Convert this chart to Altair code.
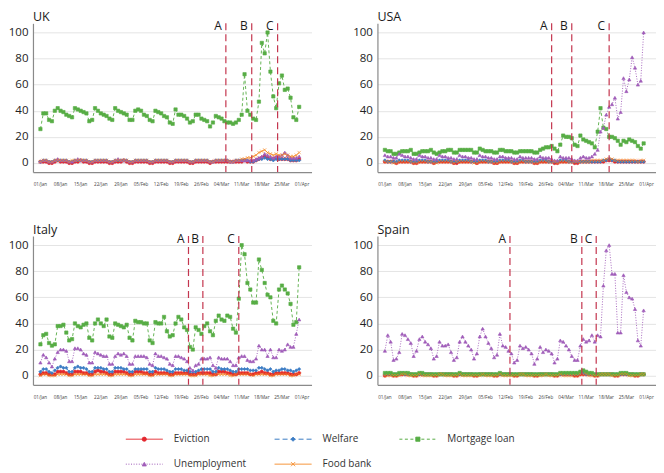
import json
import pandas as pd
import altair as alt

# ---------------- categories / styles ----------------
SERIES = ["Eviction", "Welfare", "Mortgage loan", "Unemployment", "Food bank"]
COLORS = ["#e3262d", "#3b7cc4", "#57ad45", "#a05cb9", "#f5861f"]
DASHES = [[1, 0], [5, 3], [3, 2.5], [1, 1.6], [1, 0]]
SHAPES = ["circle", "diamond", "square", "triangle-up", "M-1,-1L1,1M-1,1L1,-1"]
COUNTRIES = ["UK", "USA", "Italy", "Spain"]
TICK_LABELS = ["01/Jan", "08/Jan", "15/Jan", "22/Jan", "29/Jan", "05/Feb", "12/Feb",
               "19/Feb", "26/Feb", "04/Mar", "11/Mar", "18/Mar", "25/Mar", "01/Apr"]
EVENT_LABELS = ["A", "B", "C"]

# ---------------- daily values, 01/Jan .. 31/Mar ----------------
uk_eviction = [1, 1, 1, 0, 0,
               1, 2, 1, 1, 1, 0, 0,
               1, 1, 2, 1, 1, 0, 0,
               1, 1, 1, 1, 1, 0, 0,
               1, 1, 1, 2, 1, 0, 0,
               1, 1, 1, 1, 1, 0, 0,
               1, 1, 1, 1, 1, 0, 0,
               1, 1, 1, 1, 1, 0, 0,
               1, 1, 1, 1, 1, 0, 1,
               1, 1, 1, 1, 1, 1, 1,
               1, 1, 1, 2, 1, 1, 1,
               2, 3, 4, 5, 4, 3, 3,
               4, 3, 3, 3, 3, 2, 2,
               2, 3]
uk_welfare = [1, 2, 2, 1, 1,
              2, 2, 2, 2, 2, 1, 1,
              2, 2, 2, 2, 2, 1, 1,
              2, 2, 2, 2, 2, 1, 1,
              2, 2, 2, 2, 2, 1, 1,
              2, 2, 2, 2, 2, 1, 1,
              2, 2, 2, 2, 2, 1, 1,
              2, 2, 2, 2, 2, 1, 1,
              2, 2, 2, 2, 2, 1, 1,
              2, 2, 2, 2, 2, 1, 1,
              2, 2, 2, 2, 2, 1, 1,
              2, 3, 3, 4, 3, 3, 2,
              3, 3, 3, 3, 3, 2, 2,
              2, 2]
uk_mortgage = [26, 38, 38, 33, 32,
               40, 42, 40, 39, 37, 36, 35,
               42, 41, 40, 39, 38, 32, 33,
               42, 40, 38, 37, 36, 34, 33,
               42, 40, 39, 38, 37, 33, 33,
               40, 41, 40, 37, 36, 33, 32,
               40, 39, 38, 36, 35, 31, 30,
               41, 37, 37, 36, 34, 31, 32,
               37, 37, 34, 33, 32, 28, 31,
               36, 35, 34, 32, 31, 31, 30,
               31, 33, 37, 68, 40, 37, 34,
               33, 47, 92, 84, 100, 70, 51,
               42, 61, 67, 56, 57, 50, 35,
               33, 43]
uk_unemployment = [1, 2, 2, 1, 1,
                   2, 3, 2, 2, 2, 1, 1,
                   2, 3, 2, 2, 2, 1, 1,
                   2, 2, 2, 2, 2, 1, 1,
                   2, 3, 2, 2, 2, 1, 1,
                   2, 2, 2, 2, 2, 1, 1,
                   2, 2, 2, 2, 2, 1, 1,
                   2, 2, 2, 2, 2, 1, 1,
                   2, 2, 2, 2, 2, 1, 1,
                   2, 2, 2, 2, 2, 1, 1,
                   2, 2, 2, 2, 2, 2, 2,
                   3, 4, 5, 7, 6, 5, 4,
                   5, 5, 6, 8, 6, 4, 4,
                   4, 5]
uk_foodbank = [1, 2, 2, 1, 1,
               2, 2, 2, 2, 2, 1, 2,
               2, 2, 2, 2, 2, 1, 1,
               2, 2, 2, 2, 2, 1, 1,
               2, 2, 2, 2, 2, 1, 1,
               2, 2, 2, 2, 2, 1, 1,
               2, 2, 2, 2, 2, 1, 1,
               2, 2, 2, 2, 2, 1, 1,
               2, 2, 2, 2, 2, 1, 1,
               2, 2, 2, 2, 2, 1, 1,
               2, 2, 3, 3, 4, 4, 5,
               6, 8, 9, 10, 8, 7, 6,
               7, 6, 6, 7, 6, 5, 5,
               6, 8]

usa_eviction = [1, 1, 1, 1, 0,
                1, 1, 1, 1, 1, 0, 0,
                1, 1, 1, 1, 1, 0, 1,
                1, 1, 1, 1, 1, 0, 0,
                1, 1, 1, 1, 1, 1, 0,
                1, 1, 1, 1, 1, 0, 0,
                1, 1, 1, 1, 1, 0, 0,
                1, 1, 1, 1, 1, 0, 0,
                1, 1, 1, 1, 1, 0, 0,
                1, 1, 1, 1, 1, 0, 0,
                1, 1, 1, 1, 1, 1, 1,
                1, 1, 2, 2, 2, 1, 1,
                1, 1, 1, 1, 1, 1, 1,
                1, 1]
usa_welfare = [2, 1, 1, 1, 1,
               2, 2, 2, 2, 1, 1, 1,
               2, 2, 2, 1, 1, 1, 1,
               2, 2, 2, 2, 1, 1, 1,
               2, 2, 2, 2, 1, 1, 1,
               2, 2, 2, 1, 1, 1, 1,
               2, 2, 2, 2, 1, 1, 1,
               2, 2, 1, 1, 1, 1, 1,
               2, 2, 2, 1, 1, 1, 1,
               2, 2, 2, 1, 1, 1, 1,
               1, 1, 1, 1, 1, 1, 1,
               1, 2, 2, 3, 2, 2, 1,
               1, 1, 1, 1, 1, 1, 1,
               1, 1]
usa_mortgage = [10, 9, 9, 7, 7,
                8, 9, 9, 9, 10, 7, 7,
                8, 9, 9, 9, 10, 8, 7,
                8, 9, 9, 10, 10, 8, 8,
                10, 10, 10, 10, 10, 8, 8,
                11, 10, 9, 9, 9, 8, 8,
                10, 10, 9, 9, 9, 8, 8,
                9, 9, 9, 9, 9, 8, 8,
                10, 11, 12, 12, 13, 11, 9,
                14, 21, 20, 20, 19, 14, 13,
                21, 18, 17, 16, 15, 12, 24,
                42, 27, 26, 20, 20, 19, 17,
                14, 17, 16, 18, 17, 16, 13,
                11, 15]
usa_unemployment = [6, 5, 5, 4, 4,
                    7, 6, 5, 5, 4, 3, 3,
                    6, 5, 5, 4, 4, 3, 3,
                    6, 5, 5, 4, 4, 3, 3,
                    6, 5, 5, 4, 4, 3, 3,
                    6, 5, 5, 4, 4, 3, 3,
                    5, 5, 4, 4, 4, 3, 3,
                    5, 4, 4, 4, 4, 3, 3,
                    5, 4, 4, 4, 3, 2, 2,
                    5, 4, 4, 4, 3, 2, 2,
                    4, 5, 4, 4, 5, 7, 10,
                    24, 27, 37, 43, 45, 50, 34,
                    39, 65, 55, 64, 81, 73, 60,
                    63, 100]
usa_foodbank = [1, 1, 1, 0, 0,
                1, 1, 1, 1, 1, 0, 0,
                1, 1, 1, 1, 1, 0, 0,
                1, 1, 1, 1, 1, 0, 1,
                1, 1, 1, 1, 1, 0, 0,
                1, 1, 1, 1, 1, 0, 0,
                1, 1, 1, 1, 1, 0, 0,
                1, 1, 1, 1, 1, 0, 0,
                1, 1, 1, 1, 1, 1, 0,
                1, 1, 1, 1, 1, 1, 1,
                1, 1, 1, 1, 2, 2, 2,
                2, 2, 3, 3, 3, 2, 2,
                2, 2, 2, 2, 2, 2, 1,
                2, 2]

italy_eviction = [1, 2, 2, 1, 1,
                  1, 3, 3, 3, 2, 1, 1,
                  3, 3, 3, 2, 2, 1, 1,
                  3, 4, 3, 3, 2, 1, 1,
                  3, 3, 3, 3, 2, 1, 1,
                  3, 3, 3, 2, 2, 1, 1,
                  3, 2, 2, 2, 2, 1, 1,
                  2, 2, 2, 2, 2, 1, 1,
                  1, 2, 2, 2, 2, 2, 1,
                  1, 3, 3, 3, 2, 2, 1,
                  1, 2, 2, 2, 2, 1, 1,
                  2, 2, 3, 2, 2, 1, 1,
                  2, 2, 2, 2, 2, 1, 1,
                  1, 2]
italy_welfare = [3, 5, 5, 3, 2,
                 4, 6, 7, 6, 6, 3, 3,
                 6, 7, 6, 6, 5, 3, 3,
                 6, 6, 6, 5, 5, 3, 3,
                 6, 6, 6, 5, 5, 3, 3,
                 5, 5, 5, 5, 5, 3, 3,
                 6, 5, 5, 5, 4, 3, 3,
                 5, 5, 5, 4, 4, 3, 3,
                 3, 4, 5, 5, 5, 5, 3,
                 3, 6, 5, 5, 5, 4, 3,
                 3, 5, 5, 5, 5, 4, 4,
                 4, 6, 6, 5, 4, 5, 3,
                 4, 4, 5, 5, 4, 4, 3,
                 4, 5]
italy_mortgage = [24, 31, 32, 25, 23,
                  24, 38, 38, 39, 33, 27, 28,
                  40, 38, 37, 39, 40, 29, 27,
                  40, 43, 40, 38, 43, 30, 29,
                  40, 39, 38, 37, 39, 29, 27,
                  42, 41, 41, 40, 40, 27, 25,
                  41, 40, 40, 45, 34, 30, 31,
                  40, 45, 43, 37, 35, 22, 20,
                  37, 35, 32, 38, 40, 34, 31,
                  42, 46, 43, 42, 46, 45, 36,
                  33, 59, 100, 93, 71, 66, 56,
                  56, 89, 81, 71, 62, 60, 42,
                  40, 66, 69, 66, 63, 55, 39,
                  41, 83]
italy_unemployment = [10, 16, 14, 10, 7,
                      13, 18, 20, 20, 19, 11, 11,
                      21, 21, 20, 17, 16, 10, 10,
                      18, 17, 16, 15, 15, 9, 9,
                      15, 17, 16, 17, 15, 9, 9,
                      15, 15, 15, 15, 14, 9, 8,
                      17, 15, 15, 14, 13, 9, 8,
                      15, 15, 14, 13, 11, 6, 4,
                      8, 9, 13, 13, 13, 14, 8,
                      6, 14, 13, 13, 13, 11, 8,
                      8, 14, 15, 15, 12, 11, 11,
                      13, 23, 20, 20, 15, 20, 14,
                      14, 20, 19, 20, 24, 22, 22,
                      32, 43]
italy_foodbank = [0, 1, 1, 0, 0,
                  0, 1, 1, 1, 1, 0, 0,
                  1, 1, 1, 1, 1, 0, 0,
                  1, 1, 1, 1, 1, 0, 0,
                  1, 1, 1, 1, 1, 0, 0,
                  1, 1, 1, 1, 1, 0, 0,
                  1, 1, 1, 1, 1, 0, 0,
                  1, 1, 1, 1, 1, 0, 0,
                  0, 1, 1, 1, 1, 0, 0,
                  1, 1, 1, 1, 1, 0, 0,
                  1, 1, 1, 1, 1, 1, 0,
                  1, 1, 1, 1, 1, 0, 0,
                  1, 1, 1, 1, 1, 0, 0,
                  1, 1]

spain_eviction = [0, 1, 1, 0, 0,
                  1, 1, 1, 1, 1, 0, 0,
                  1, 1, 1, 1, 1, 0, 0,
                  1, 1, 1, 1, 1, 0, 0,
                  1, 1, 1, 1, 1, 0, 0,
                  1, 1, 1, 1, 1, 0, 0,
                  1, 1, 1, 1, 1, 0, 0,
                  1, 1, 1, 1, 1, 0, 0,
                  1, 1, 1, 1, 1, 0, 0,
                  1, 1, 1, 1, 1, 0, 0,
                  1, 1, 1, 1, 1, 0, 0,
                  1, 1, 1, 1, 1, 0, 0,
                  1, 1, 1, 1, 1, 0, 0,
                  1, 1]
spain_welfare = [1, 1, 1, 1, 1,
                 1, 2, 1, 1, 1, 1, 1,
                 1, 1, 1, 1, 1, 1, 1,
                 1, 1, 1, 1, 1, 1, 1,
                 1, 1, 1, 1, 1, 1, 1,
                 1, 1, 1, 1, 1, 1, 1,
                 1, 1, 1, 1, 1, 1, 1,
                 1, 1, 1, 1, 1, 1, 1,
                 1, 1, 1, 1, 1, 1, 1,
                 1, 1, 1, 1, 1, 1, 1,
                 2, 2, 1, 1, 1, 1, 1,
                 1, 1, 1, 1, 1, 1, 1,
                 1, 1, 1, 1, 1, 1, 1,
                 1, 1]
spain_mortgage = [2, 2, 2, 1, 1,
                  2, 2, 2, 2, 1, 1, 1,
                  2, 2, 1, 1, 1, 1, 1,
                  1, 1, 1, 1, 1, 1, 1,
                  2, 1, 1, 1, 1, 1, 1,
                  1, 1, 1, 1, 1, 1, 1,
                  2, 1, 1, 1, 1, 1, 1,
                  1, 1, 1, 1, 1, 1, 1,
                  1, 1, 1, 1, 1, 1, 1,
                  2, 2, 2, 2, 2, 2, 2,
                  3, 4, 3, 2, 2, 1, 1,
                  1, 1, 1, 1, 1, 1, 1,
                  2, 2, 2, 1, 1, 1, 1,
                  1, 1]
spain_unemployment = [19, 31, 26, 12, 13,
                      18, 32, 31, 28, 25, 15, 19,
                      28, 30, 26, 24, 21, 13, 15,
                      26, 23, 23, 24, 18, 12, 14,
                      26, 30, 26, 23, 20, 13, 17,
                      30, 36, 30, 25, 21, 14, 16,
                      32, 23, 22, 19, 17, 10, 12,
                      23, 21, 22, 20, 17, 9, 13,
                      22, 18, 20, 19, 17, 10, 13,
                      27, 26, 23, 20, 15, 12, 12,
                      23, 28, 26, 27, 31, 26, 31,
                      30, 69, 96, 100, 78, 78, 33,
                      33, 77, 64, 60, 59, 51, 27,
                      23, 50]
spain_foodbank = [0, 0, 0, 0, 0,
                  0, 1, 1, 0, 0, 0, 0,
                  1, 0, 0, 0, 0, 0, 0,
                  1, 1, 0, 0, 0, 0, 0,
                  1, 0, 0, 0, 0, 0, 0,
                  0, 1, 0, 0, 0, 0, 0,
                  1, 0, 0, 0, 0, 0, 0,
                  1, 1, 0, 0, 0, 0, 0,
                  0, 0, 1, 0, 0, 0, 0,
                  1, 0, 0, 0, 0, 0, 0,
                  1, 1, 1, 0, 0, 0, 0,
                  1, 1, 1, 1, 0, 0, 0,
                  1, 1, 1, 0, 0, 0, 0,
                  1, 1]

# event markers (day index counted from 01/Jan)
uk_events = [64.5, 73.5, 82.5]
usa_events = [58.0, 65.0, 78.0]
italy_events = [51.5, 56.5, 69.0]
spain_events = [43.5, 68.5, 73.5]

DATA = {
    "UK": [uk_eviction, uk_welfare, uk_mortgage, uk_unemployment, uk_foodbank],
    "USA": [usa_eviction, usa_welfare, usa_mortgage, usa_unemployment, usa_foodbank],
    "Italy": [italy_eviction, italy_welfare, italy_mortgage, italy_unemployment, italy_foodbank],
    "Spain": [spain_eviction, spain_welfare, spain_mortgage, spain_unemployment, spain_foodbank],
}
EVENTS = {"UK": uk_events, "USA": usa_events, "Italy": italy_events, "Spain": spain_events}

rows = []
for c in COUNTRIES:
    for s, vals in zip(SERIES, DATA[c]):
        if len(vals) != 91:
            raise ValueError(f"{c} {s} has {len(vals)} values")
        for d, v in enumerate(vals):
            rows.append({"country": c, "series": s, "day": d, "value": v})
df = pd.DataFrame(rows)

ev_rows = []
for c in COUNTRIES:
    for lab, d in zip(EVENT_LABELS, EVENTS[c]):
        ev_rows.append({"country": c, "label": lab, "day": d})
ev_df = pd.DataFrame(ev_rows)

tick_df = pd.DataFrame({"day": [7 * i for i in range(len(TICK_LABELS))],
                        "label": TICK_LABELS})

leg_df = pd.DataFrame({"series": SERIES,
                       "col": [i % 3 for i in range(len(SERIES))],
                       "row": [i // 3 for i in range(len(SERIES))]})

FONT = "Open Sans"
PW, PH = 279, 149
stroke_enc = alt.Stroke("series:N", scale=alt.Scale(domain=SERIES, range=COLORS), legend=None)
fill_enc = alt.Fill("series:N", scale=alt.Scale(domain=SERIES, range=COLORS), legend=None)
dash_enc = alt.StrokeDash("series:N", scale=alt.Scale(domain=SERIES, range=DASHES), legend=None)
shape_enc = alt.Shape("series:N", scale=alt.Scale(domain=SERIES, range=SHAPES), legend=None)

x_enc = alt.X("day:Q",
              scale=alt.Scale(domain=[-2.6, 94.3], nice=False, zero=False),
              axis=alt.Axis(values=[7 * i for i in range(len(TICK_LABELS))], labels=False,
                            title=None, grid=False, ticks=False,
                            domainColor="#8a8a8a", domainWidth=1.2))
y_enc = alt.Y("value:Q",
              scale=alt.Scale(domain=[-7, 107], nice=False, zero=False),
              axis=alt.Axis(values=[0, 20, 40, 60, 80, 100], title=None, grid=True,
                            gridColor="#e4e4e4", gridWidth=1, ticks=False,
                            labelFontSize=11.5, labelColor="#222", labelPadding=5,
                            domainColor="#8a8a8a", domainWidth=1.2))


def panel(country):
    base = alt.Chart(df).transform_filter(alt.datum.country == country)
    lines = base.mark_line(strokeWidth=0.9).encode(
        x=x_enc, y=y_enc, stroke=stroke_enc, strokeDash=dash_enc)
    pts = base.mark_point(filled=True, size=11, strokeWidth=0.6, opacity=1).encode(
        x=x_enc, y=y_enc, fill=fill_enc, stroke=stroke_enc, shape=shape_enc)
    evb = alt.Chart(ev_df).transform_filter(alt.datum.country == country)
    rules = evb.mark_rule(color="#c4364f", strokeDash=[7, 4], strokeWidth=1.2).encode(
        x=alt.X("day:Q"))
    texts = evb.mark_text(align="right", baseline="top", dx=-4, dy=-2, fontSize=12,
                          font=FONT, color="#1a1a1a").encode(
        x=alt.X("day:Q"), y=alt.value(0), text="label:N")
    ticks = alt.Chart(tick_df).mark_text(baseline="top", fontSize=4.6, font=FONT,
                                         color="#444").encode(
        x=alt.X("day:Q"), y=alt.value(PH + 10), text="label:N")
    return alt.layer(lines, pts, rules, texts, ticks).properties(
        width=PW, height=PH,
        title=alt.TitleParams(country, anchor="start", frame="group", fontSize=12.5,
                              font=FONT, fontWeight="normal", color="#1a1a1a", offset=-3))


grid = alt.concat(*[panel(c) for c in COUNTRIES], columns=2,
                  spacing={"row": 64, "column": 66}, bounds="flush")


def legend_col(idx, w):
    base = alt.Chart(leg_df).transform_filter(alt.datum.col == idx)
    ypos = alt.Y("row:O", scale=alt.Scale(domain=[0, 1]), axis=None)
    rule = base.mark_rule(strokeWidth=1).encode(
        x=alt.value(0), x2=alt.value(37), y=ypos, stroke=stroke_enc, strokeDash=dash_enc)
    pt = base.mark_point(filled=True, size=18, strokeWidth=0.8, opacity=1).encode(
        x=alt.value(18.5), y=ypos, fill=fill_enc, stroke=stroke_enc, shape=shape_enc)
    tx = base.mark_text(align="left", baseline="middle", fontSize=10, font=FONT,
                        color="#333").encode(x=alt.value(48), y=ypos, text="series:N")
    return alt.layer(rule, pt, tx).properties(width=w, height=50)


legend = alt.hconcat(legend_col(0, 149), legend_col(1, 125), legend_col(2, 164),
                     spacing=0, bounds="flush")

chart = alt.vconcat(grid, legend, center=True, spacing=27).properties(
    padding={"top": 2, "left": 0, "right": 0, "bottom": 0}
).configure(font=FONT).configure_view(stroke=None)

chart.save("out.html", embed_options={"renderer": "svg", "actions": False})
